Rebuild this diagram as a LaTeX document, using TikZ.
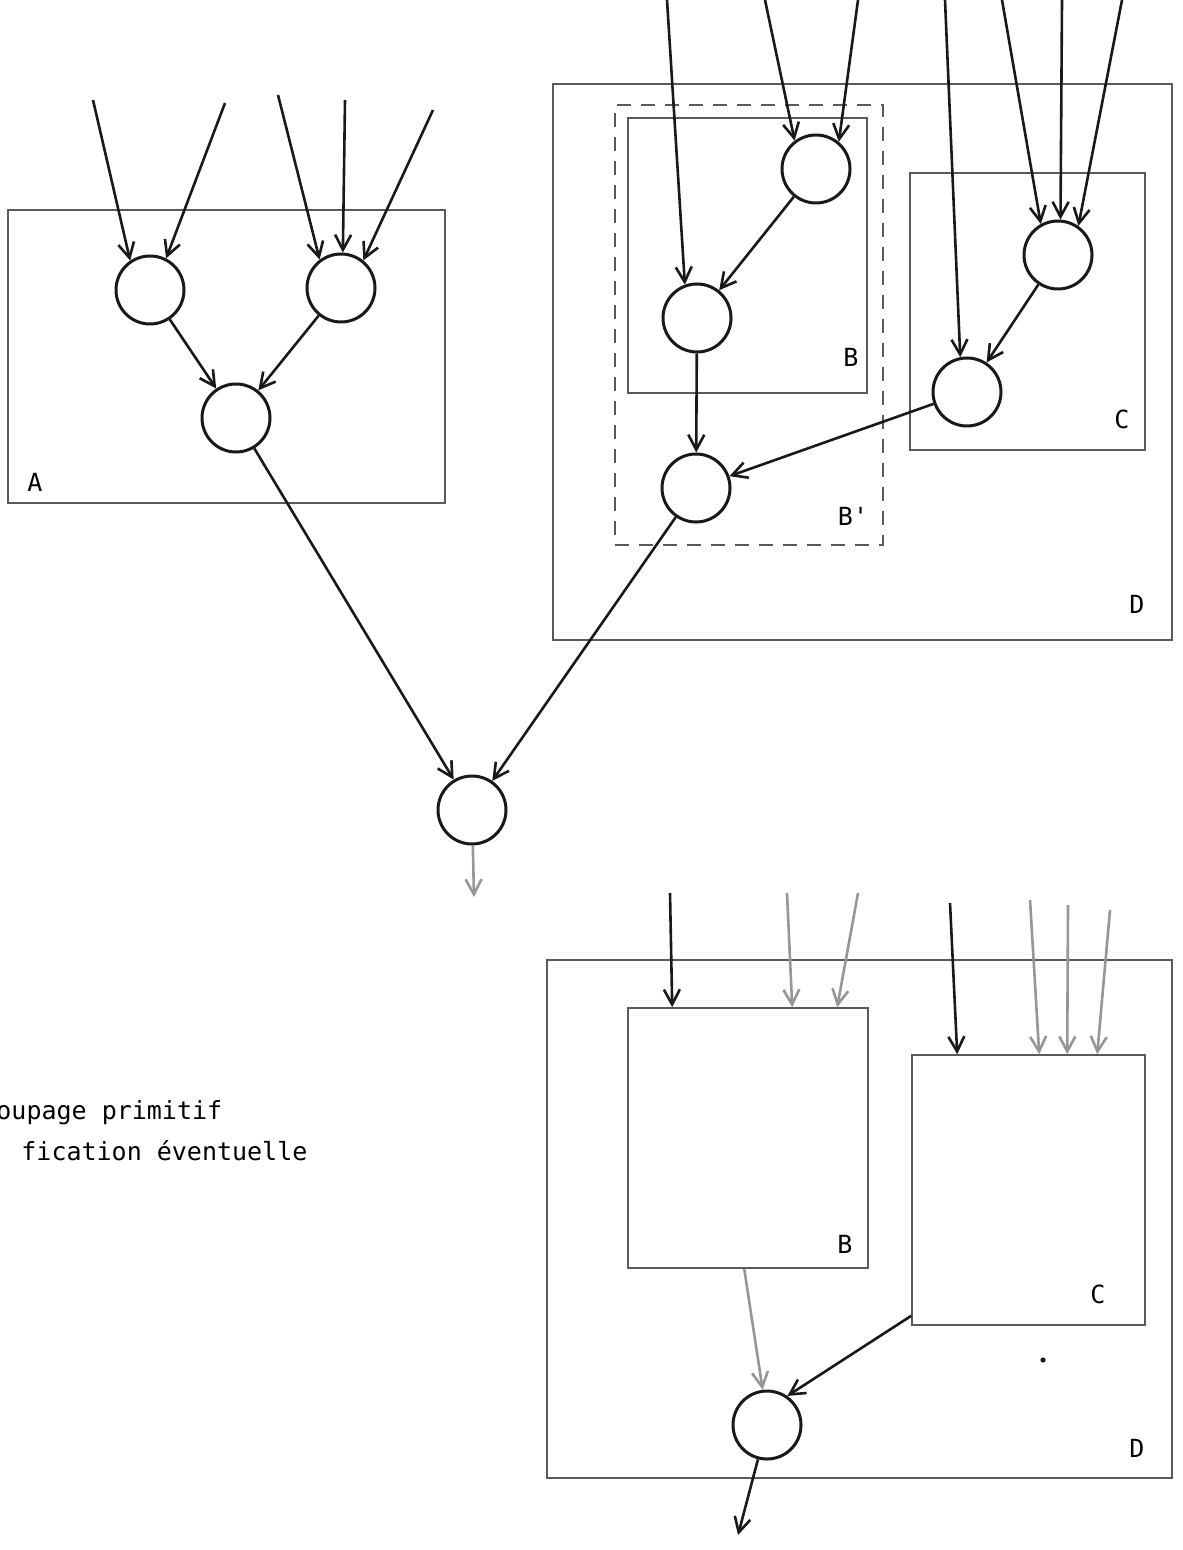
\documentclass[tikz,border=0pt]{standalone}
\usepackage{fontspec}
\usepackage{tikz}
\usepackage{xcolor}
\usetikzlibrary{arrows.meta, positioning, calc}
\newfontfamily\plotfont{DejaVu Sans Mono}
\definecolor{cInk}{RGB}{25,25,25}
\definecolor{cBox}{RGB}{90,90,90}
\definecolor{cFaint}{RGB}{150,150,150}
\tikzset{
	proc/.style ={circle, draw=cInk, line width=1.5pt, minimum size=34pt, inner sep=0pt},
	grp/.style  ={rectangle, draw=cBox, line width=0.8pt, inner sep=0pt},
	flw/.style  ={-{Straight Barb[length=7.5pt, width=8pt]}, line width=1.3pt, draw=cInk},
	flwl/.style ={flw, draw=cFaint},
	lbl/.style  ={font=\plotfont\fontsize{12.5}{15}\selectfont, inner sep=0pt, anchor=base},
}

\begin{document}
\begin{tikzpicture}[x=0.5pt, y=-0.5pt]
			\useasboundingbox (0,0) rectangle (1182,1550);
			% groupe A
			\node[grp, minimum width=218.5pt, minimum height=146.5pt] (bxA) at (226.5,356.5) {};
			\node[lbl] at (35,492) {A};
			\node[proc] (cA1) at (150,290) {};
			\node[proc] (cA2) at (341,288) {};
			\node[proc] (cA3) at (236,418) {};
			\coordinate (a1) at (93,100);
			\coordinate (a2) at (225,103);
			\coordinate (a3) at (278,95);
			\coordinate (a4) at (345,100);
			\coordinate (a5) at (433,110);
			\draw[flw] (a1) -- (cA1.124);
			\draw[flw] (a2) -- (cA1.63);
			\draw[flw] (a3) -- (cA2.127);
			\draw[flw] (a4) -- (cA2.87);
			\draw[flw] (a5) -- (cA2.51);
			\draw[flw] (cA1) -- (cA3);
			\draw[flw] (cA2) -- (cA3);
			% groupes B, B', C, D
			\node[grp, minimum width=309.5pt, minimum height=278pt] (bxD) at (862.5,362) {};
			\node[grp, dashed, dash pattern=on 7pt off 5pt, minimum width=134pt, minimum height=220pt] (bxBp) at (749,325) {};
			\node[grp, minimum width=119.5pt, minimum height=137.5pt] (bxB) at (747.5,255.5) {};
			\node[grp, minimum width=117.5pt, minimum height=138.5pt] (bxC) at (1027.5,311.5) {};
			\node[lbl] at (851,367) {B};
			\node[lbl] at (853,525) {B'};
			\node[lbl] at (1122,429) {C};
			\node[lbl] at (1137,613) {D};
			\node[proc] (cB1) at (816,169) {};
			\node[proc] (cB2) at (697,318) {};
			\node[proc] (cB3) at (696,488) {};
			\node[proc] (cC1) at (1058,255) {};
			\node[proc] (cC2) at (967,392) {};
			\coordinate (b1) at (667,0);
			\coordinate (b2) at (765,0);
			\coordinate (b3) at (858,0);
			\coordinate (c1) at (945,0);
			\coordinate (c2) at (1002,0);
			\coordinate (c3) at (1062,0);
			\coordinate (c4) at (1122,0);
			\draw[flw] (b1) -- (cB2.110);
			\draw[flw] (b2) -- (cB1.127);
			\draw[flw] (b3) -- (cB1.50);
			\draw[flw] (c1) -- (cC2.101);
			\draw[flw] (c2) -- (cC1.119);
			\draw[flw] (c3) -- (cC1.86);
			\draw[flw] (c4) -- (cC1.55);
			\draw[flw] (cB1) -- (cB2);
			\draw[flw] (cB2) -- (cB3);
			\draw[flw] (cC1) -- (cC2);
			\draw[flw] (cC2) -- (cB3);
			% sortie
			\node[proc] (cF) at (472,810) {};
			\coordinate (o1) at (474,897);
			\draw[flw] (cA3) -- (cF);
			\draw[flw] (cB3) -- (cF);
			\draw[flwl] (cF) -- (o1);
			% legende
			\node[lbl, anchor=base west] (t1) at (-4,1119) {oupage primitif};
			\node[lbl, anchor=base west] (t2) at (21,1160) {fication éventuelle};
			% regroupement
			\node[grp, minimum width=312.5pt, minimum height=259pt] (bxD2) at (859.5,1219) {};
			\node[grp, minimum width=120pt, minimum height=130pt] (bxB2) at (748,1138) {};
			\node[grp, minimum width=116.5pt, minimum height=135pt] (bxC2) at (1028.5,1190) {};
			\node[lbl] at (845,1253) {B};
			\node[lbl] at (1098,1303) {C};
			\node[lbl] at (1137,1457) {D};
			\fill[cInk] (1043,1360) circle (1.3pt);
			\node[proc] (cG) at (767,1425) {};
			\coordinate (u1) at (670,893);
			\coordinate (u2) at (787,893);
			\coordinate (u3) at (858,893);
			\coordinate (v1) at (950,903);
			\coordinate (v2) at (1030,900);
			\coordinate (v3) at (1068,905);
			\coordinate (v4) at (1110,910);
			\coordinate (o2) at (738,1535);
			\draw[flw] (u1) -- ($(bxB2.north west)+(45,0)$);
			\draw[flwl] (u2) -- ($(bxB2.north west)+(165,0)$);
			\draw[flwl] (u3) -- ($(bxB2.north west)+(210,0)$);
			\draw[flw] (v1) -- ($(bxC2.north west)+(46,0)$);
			\draw[flwl] (v2) -- ($(bxC2.north west)+(128,0)$);
			\draw[flwl] (v3) -- ($(bxC2.north west)+(156,0)$);
			\draw[flwl] (v4) -- ($(bxC2.north west)+(186,0)$);
			\draw[flwl] ($(bxB2.south west)+(117,0)$) -- (cG.97);
			\draw[flw] ($(bxC2.south west)+(0,-10)$) -- (cG.55);
			\draw[flw] (cG) -- (o2);
		\end{tikzpicture}
\end{document}
